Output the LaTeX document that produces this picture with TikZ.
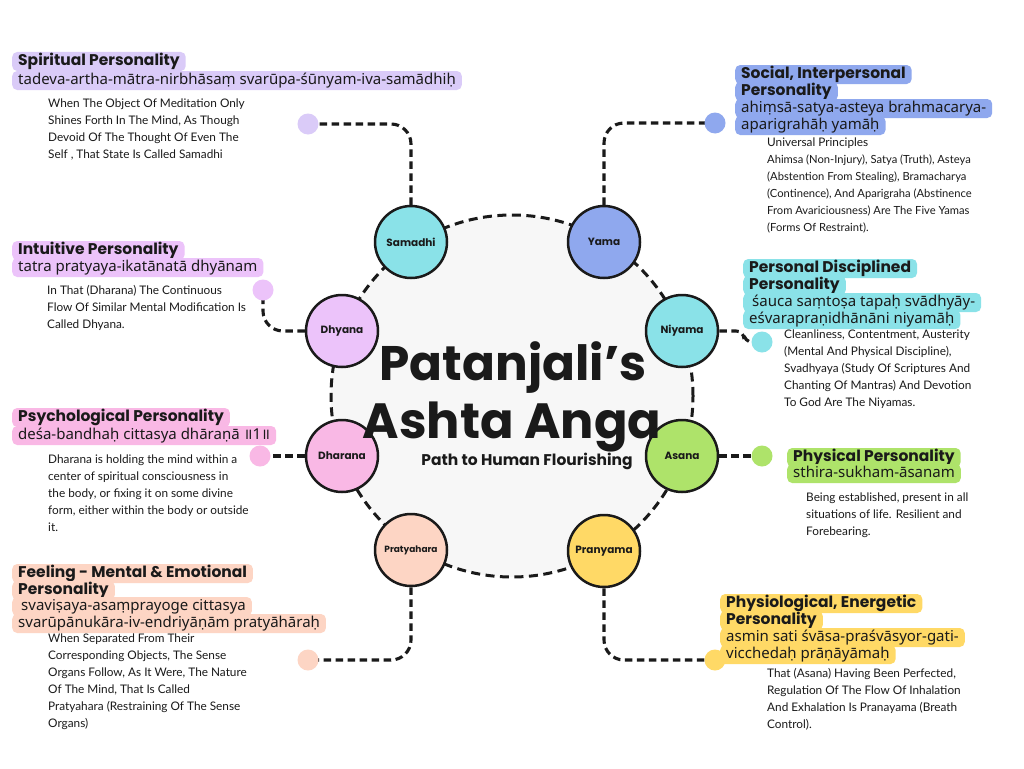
\documentclass[tikz,border=0pt]{standalone}
\usepackage{fontspec}
\setmainfont{Lato}
\newfontfamily\pop{Poppins}
\newfontfamily\skt{Noto Sans}
\definecolor{cSpir}{HTML}{DACBF8}
\definecolor{cSoc}{HTML}{8FA8EE}
\definecolor{cInt}{HTML}{ECC3FA}
\definecolor{cNiy}{HTML}{8AE2E8}
\definecolor{cPsy}{HTML}{F9B8E5}
\definecolor{cPhy}{HTML}{AEE36A}
\definecolor{cFee}{HTML}{FDD5C4}
\definecolor{cEne}{HTML}{FFD966}
\definecolor{ink}{HTML}{1A1A1A}
\definecolor{hubfill}{HTML}{F7F7F7}
\begin{document}
\begin{tikzpicture}[x=1pt,y=-1pt,
  conn/.style={draw=ink, line width=3.1pt, dash pattern=on 7.5pt off 4.5pt, rounded corners=20pt},
  limb/.style={circle, draw=ink, line width=2.5pt, minimum size=72pt, inner sep=0pt, text=ink, font=\pop\bfseries\fontsize{10.5}{12}\selectfont},
  enddot/.style={circle, minimum size=21pt, inner sep=0pt},
  hlbox/.style={fill=#1, rounded corners=5pt, anchor=base west, inner xsep=6pt, inner ysep=2pt, text height=11pt, text depth=4pt, text=ink},
  headline/.style={font=\pop\bfseries\fontsize{15.5}{17}\selectfont},
  sanskrit/.style={font=\skt\fontsize{15}{17}\selectfont},
  desc/.style={anchor=base west, align=left, inner sep=0pt, text=ink, font=\fontsize{11.8}{17}\selectfont},
  descsmall/.style={desc, font=\fontsize{11.2}{17}\selectfont}
]
\useasboundingbox (0,0) rectangle (1024,768);
\fill[white] (0,0) rectangle (1024,768);

% hub
\node[circle, minimum size=362pt, fill=hubfill, draw=ink, line width=3pt, dash pattern=on 9pt off 5.5pt] (hub) at (512,396) {};

% limbs
\node[limb, fill=cNiy] (sam) at (411,242) {Samadhi};
\node[limb, fill=cSoc] (yam) at (604,242) {Yama};
\node[limb, fill=cInt] (dhy) at (342,331) {Dhyana};
\node[limb, fill=cNiy] (niy) at (682,331) {Niyama};
\node[limb, fill=cPsy] (dha) at (342,456) {Dharana};
\node[limb, fill=cPhy] (asa) at (682,456) {Asana};
\node[limb, fill=cFee, font=\pop\bfseries\fontsize{9}{11}\selectfont] (pra) at (411,550) {Pratyahara};
\node[limb, fill=cEne] (prn) at (604,551) {Pranyama};

% title
\node[anchor=base, inner sep=0pt, text=ink, font=\pop\bfseries\fontsize{48.5}{56}\selectfont] (t1) at (513,380) {Patanjali’s};
\node[anchor=base, inner sep=0pt, text=ink, font=\pop\bfseries\fontsize{49.5}{56}\selectfont] (t2) at (512,438) {Ashta Anga};
\node[anchor=base, inner sep=0pt, text=ink, font=\pop\bfseries\fontsize{15.5}{18}\selectfont] (t3) at (527,465) {Path to Human Flourishing};

% end dots
\coordinate (kSam) at (308,124);
\coordinate (kYam) at (715,123);
\coordinate (kDhy) at (263,290);
\coordinate (kNiy) at (762,342);
\coordinate (kDha) at (260,456);
\coordinate (kAsa) at (762,456);
\coordinate (kPra) at (308,660);
\coordinate (kPrn) at (715,660);

% connectors
\draw[conn] (sam.north) |- (kSam);
\draw[conn] (yam.north) |- (kYam);
\draw[conn] (dhy.west) -| (kDhy);
\draw[conn, rounded corners=8pt] (niy.east) -| (744,342) -- (kNiy);
\draw[conn] (dha.west) -- (kDha);
\draw[conn] (asa.east) -- (kAsa);
\draw[conn] (pra.south) |- (kPra);
\draw[conn] (prn.south) |- (kPrn);

\node[enddot, fill=cSpir] (dSam) at (kSam) {};
\node[enddot, fill=cSoc] (dYam) at (kYam) {};
\node[enddot, fill=cInt] (dDhy) at (kDhy) {};
\node[enddot, fill=cNiy] (dNiy) at (kNiy) {};
\node[enddot, fill=cPsy] (dDha) at (kDha) {};
\node[enddot, fill=cPhy] (dAsa) at (kAsa) {};
\node[enddot, fill=cFee] (dPra) at (kPra) {};
\node[enddot, fill=cEne] (dPrn) at (kPrn) {};

% Spiritual
\node[hlbox=cSpir, headline] (sp1) at (12,65) {Spiritual Personality};
\node[hlbox=cSpir, sanskrit] (sp2) at (12,84) {tadeva-artha-mātra-nirbhāsaṃ svarūpa-śūnyam-iva-samādhiḥ};
\node[desc] (spd) at (48,158) {When The Object Of Meditation Only\\Shines Forth In The Mind, As Though\\Devoid Of The Thought Of Even The\\Self , That State Is Called Samadhi};

% Social
\node[hlbox=cSoc, headline] (so1) at (735,78) {Social, Interpersonal};
\node[hlbox=cSoc, headline] (so2) at (735,95) {Personality};
\node[hlbox=cSoc, sanskrit] (so3) at (735,112) {ahiṃsā-satya-asteya brahmacarya-};
\node[hlbox=cSoc, sanskrit] (so4) at (735,129) {aparigrahāḥ yamāḥ};
\node[desc] (soa) at (767,146) {Universal Principles};
\node[descsmall] (sod) at (767,231) {Ahimsa (Non-Injury), Satya (Truth), Asteya\\(Abstention From Stealing), Bramacharya\\(Continence), And Aparigraha (Abstinence\\From Avariciousness) Are The Five Yamas\\(Forms Of Restraint).};

% Intuitive
\node[hlbox=cInt, headline] (in1) at (12,254) {Intuitive Personality};
\node[hlbox=cInt, sanskrit] (in2) at (12,271) {tatra pratyaya-ikatānatā dhyānam};
\node[desc] (ind) at (47,328) {In That (Dharana) The Continuous\\Flow Of Similar Mental Modification Is\\Called Dhyana.};

% Personal Disciplined
\node[hlbox=cNiy, headline] (pd1) at (743,272) {Personal Disciplined};
\node[hlbox=cNiy, headline] (pd2) at (743,289) {Personality};
\node[hlbox=cNiy, sanskrit] (pd3) at (743,306) {\hspace{3pt}śauca saṃtoṣa tapaḥ svādhyāy-};
\node[hlbox=cNiy, sanskrit] (pd4) at (743,323) {eśvarapraṇidhānāni niyamāḥ};
\node[desc] (pdd) at (784,406) {Cleanliness, Contentment, Austerity\\(Mental And Physical Discipline),\\Svadhyaya (Study Of Scriptures And\\Chanting Of Mantras) And Devotion\\To God Are The Niyamas.};

% Psychological
\node[hlbox=cPsy, headline] (ps1) at (12,421) {Psychological Personality};
\node[hlbox=cPsy, sanskrit] (ps2) at (12,439) {deśa-bandhaḥ cittasya dhāraṇā ॥1॥};
\node[desc] (psd) at (48,531) {Dharana is holding the mind within a\\center of spiritual consciousness in\\the body, or fixing it on some divine\\form, either within the body or outside\\it.};

% Physical
\node[hlbox=cPhy, headline] (ph1) at (787,461) {Physical Personality};
\node[hlbox=cPhy, sanskrit] (ph2) at (787,477) {sthira-sukham-āsanam};
\node[desc] (phd) at (806,535) {Being established, present in all\\situations of life. Resilient and\\Forebearing.};

% Feeling
\node[hlbox=cFee, headline] (fe1) at (12,577) {Feeling - Mental \& Emotional};
\node[hlbox=cFee, headline] (fe2) at (12,594) {Personality};
\node[hlbox=cFee, sanskrit] (fe3) at (12,610) {\hspace{3pt}svaviṣaya-asaṃprayoge cittasya};
\node[hlbox=cFee, sanskrit] (fe4) at (12,627) {svarūpānukāra-iv-endriyāṇām pratyāhāraḥ};
\node[desc] (fed) at (48,727) {When Separated From Their\\Corresponding Objects, The Sense\\Organs Follow, As It Were, The Nature\\Of The Mind, That Is Called\\Pratyahara (Restraining Of The Sense\\Organs)};

% Physiological
\node[hlbox=cEne, headline] (en1) at (720,607) {Physiological, Energetic};
\node[hlbox=cEne, headline] (en2) at (720,624) {Personality};
\node[hlbox=cEne, sanskrit] (en3) at (720,641) {asmin sati śvāsa-praśvāsyor-gati-};
\node[hlbox=cEne, sanskrit] (en4) at (720,658) {vicchedaḥ prāṇāyāmaḥ};
\node[desc] (end) at (767,728) {That (Asana) Having Been Perfected,\\Regulation Of The Flow Of Inhalation\\And Exhalation Is Pranayama (Breath\\Control).};
\end{tikzpicture}
\end{document}
